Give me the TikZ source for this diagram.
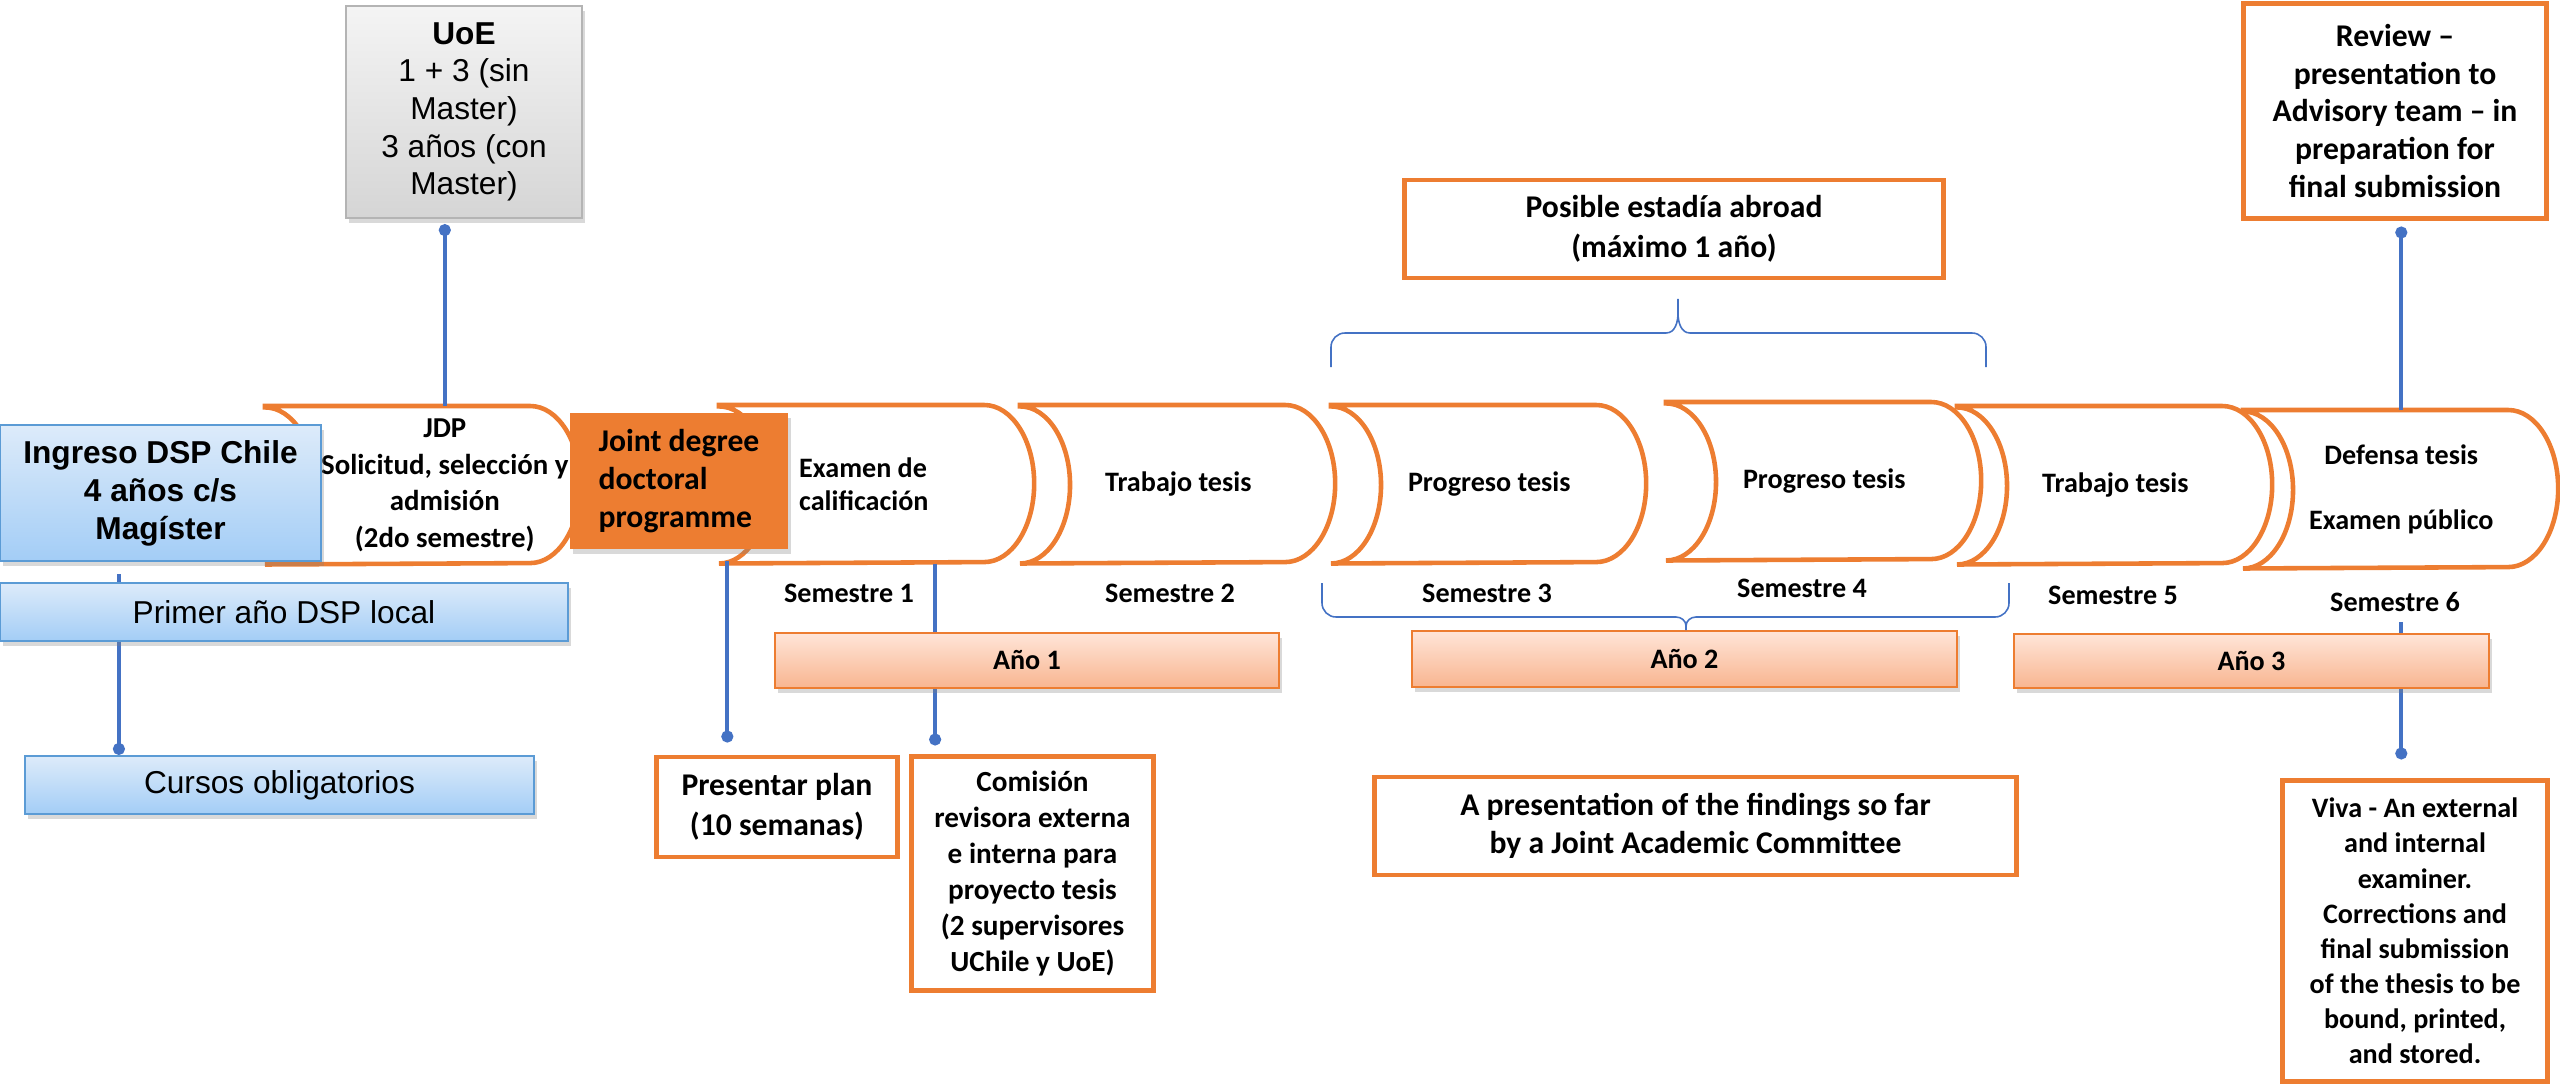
\documentclass[tikz,border=0pt]{standalone}
\usepackage{fontspec}
\setmainfont{Carlito}
\newfontfamily\arialfont{Liberation Sans}
\usepackage{tikz}
\usetikzlibrary{arrows.meta,backgrounds,shadows}

\definecolor{naranja}{HTML}{ED7D31}
\definecolor{azullinea}{HTML}{4472C4}
\definecolor{azulborde}{HTML}{5B9BD5}
\definecolor{azularriba}{HTML}{DDEBFA}
\definecolor{azulabajo}{HTML}{A3CDF6}
\definecolor{grisarriba}{HTML}{F4F4F4}
\definecolor{grisabajo}{HTML}{D5D5D5}
\definecolor{grisborde}{HTML}{B4B4B4}
\definecolor{anoarriba}{HTML}{FFE5D8}
\definecolor{anoabajo}{HTML}{F8B590}

\begin{document}
\begin{tikzpicture}[x=0.01cm, y=-0.01cm,
  sombra/.style={drop shadow={opacity=0.3, shadow xshift=0.3mm, shadow yshift=-0.5mm}},
  texto/.style={font=\bfseries\fontsize{8pt}{9.5pt}\selectfont, align=center, inner sep=0pt},
  etapa/.style={texto, anchor=north west, minimum width=3.15cm, minimum height=1.57cm},
  borde etapa/.style={draw=naranja, line width=1.3pt, fill=white},
  caja/.style={texto, draw=naranja, line width=1.4pt, fill=white},
  ano/.style={texto, draw=naranja, line width=0.7pt, top color=anoarriba, bottom color=anoabajo, sombra},
  azul/.style={font=\arialfont\fontsize{9pt}{10.8pt}\selectfont, align=center, inner sep=0pt,
    draw=azulborde, line width=0.6pt, top color=azularriba, bottom color=azulabajo, sombra},
  conector/.style={draw=azullinea, line width=1.1pt, -{Circle[length=3.4pt]}},
  llave/.style={draw=azullinea, line width=0.45pt}
]
\useasboundingbox (0,0) rectangle (2560,1085);

\node[azul, font=\arialfont\fontsize{9pt}{10.7pt}\selectfont, draw=grisborde, top color=grisarriba, bottom color=grisabajo,
  minimum width=2.36cm, minimum height=2.12cm] (uoe) at (464,112)
  {\textbf{UoE}\\1 + 3 (sin\\Master)\\3 años (con\\Master)};

\node[etapa, minimum width=3.58cm, font=\bfseries\fontsize{8.2pt}{10.4pt}\selectfont] (jdp) at (265,406)
  {JDP\\Solicitud, selección y\\admisión\\(2do semestre)};
\node[etapa, minimum width=2.88cm, align=left] (examen) at (719,405) {Examen de\\calificación};
\node[etapa] (trabajoA) at (1020,405) {Trabajo tesis};
\node[etapa] (progresoA) at (1331,405) {Progreso tesis};
\node[etapa] (progresoB) at (1666,402) {Progreso tesis};
\node[etapa] (trabajoB) at (1957,406) {Trabajo tesis};
\node[etapa] (defensa) at (2243,410) {Defensa tesis\\[9pt]Examen público};

\node[azul, font=\arialfont\bfseries\fontsize{9pt}{10.8pt}\selectfont, minimum width=3.21cm, minimum height=1.36cm]
  (ingreso) at (160.5,493) {Ingreso DSP Chile\\4 años c/s\\Magíster};
\node[azul, minimum width=5.68cm, minimum height=0.58cm] (primer) at (284,612) {Primer año DSP local};
\node[azul, minimum width=5.09cm, minimum height=0.58cm] (cursos) at (279.5,785) {Cursos obligatorios};

\node[texto, fill=naranja, align=left, font=\bfseries\fontsize{9pt}{10.7pt}\selectfont, sombra,
  minimum width=2.18cm, minimum height=1.36cm] (joint) at (679,481) {Joint degree\\doctoral\\programme};

\node[texto] (sem1) at (849,593) {Semestre 1};
\node[texto] (sem2) at (1170,593) {Semestre 2};
\node[texto] (sem3) at (1487,593) {Semestre 3};
\node[texto] (sem4) at (1802,588) {Semestre 4};
\node[texto] (sem5) at (2113,595) {Semestre 5};
\node[texto] (sem6) at (2395,602) {Semestre 6};

\node[ano, minimum width=5.04cm, minimum height=0.55cm] (ano1) at (1027,660.5) {Año 1};
\node[ano, minimum width=5.45cm, minimum height=0.56cm] (ano2) at (1684.5,659) {Año 2};
\node[ano, minimum width=4.75cm, minimum height=0.54cm] (ano3) at (2251.5,661) {Año 3};

\node[caja, font=\bfseries\fontsize{9pt}{11.4pt}\selectfont, minimum width=2.40cm, minimum height=1.00cm]
  (presentar) at (777,807) {Presentar plan\\(10 semanas)};
\node[caja, font=\bfseries\fontsize{8.3pt}{10.2pt}\selectfont, minimum width=2.41cm, minimum height=2.33cm]
  (comision) at (1032.5,873.5) {Comisión\\revisora externa\\e interna para\\proyecto tesis\\(2 supervisores\\UChile y UoE)};
\node[caja, font=\bfseries\fontsize{9pt}{11.4pt}\selectfont, minimum width=5.38cm, minimum height=0.98cm]
  (posible) at (1674,229) {Posible estadía abroad\\(máximo 1 año)};
\node[caja, font=\bfseries\fontsize{9pt}{11pt}\selectfont, minimum width=6.41cm, minimum height=0.98cm]
  (hallazgos) at (1695.5,826) {A presentation of the findings so far\\by a Joint Academic Committee};
\node[caja, font=\bfseries\fontsize{9pt}{10.8pt}\selectfont, minimum width=3.02cm, minimum height=2.14cm]
  (review) at (2395,111) {Review --\\presentation to\\Advisory team -- in\\preparation for\\final submission};
\node[caja, font=\bfseries\fontsize{8pt}{10pt}\selectfont, minimum width=2.64cm, minimum height=3.00cm]
  (viva) at (2415,931) {Viva - An external\\and internal\\examiner.\\Corrections and\\final submission\\of the thesis to be\\bound, printed,\\and stored.};

\begin{scope}[on background layer]
  \foreach \n in {jdp,examen,trabajoA,progresoA,progresoB,trabajoB,defensa}
    \draw[borde etapa] (\n.north west) -- ++(2.65cm,0)
      arc[start angle=90, end angle=-90, x radius=5mm, y radius=7.85mm] -- (\n.south west)
      arc[start angle=-90, end angle=90, x radius=5mm, y radius=7.85mm] -- cycle;
  \draw[conector, shorten >=0.5mm] (jdp.north) -- (jdp.north |- uoe.south);
  \draw[conector, shorten <=1.2mm] ([xshift=1.2cm]ingreso.south west) -- ([xshift=1.2cm]ingreso.south west |- cursos.north);
  \draw[conector, shorten <=1.1mm, shorten >=1.2mm] ([xshift=1.58cm]joint.south west) -- ([xshift=1.58cm]joint.south west |- presentar.north);
  \draw[conector, shorten >=0.9mm] ([xshift=2.16cm]examen.south west) -- ([xshift=2.16cm]examen.south west |- comision.north);
  \draw[conector, shorten >=0.6mm] (defensa.north) -- (defensa.north |- review.south);
  \draw[conector, shorten <=1mm, shorten >=1.9mm] (sem6.south -| defensa.south) -- (defensa.south |- viva.north);
\end{scope}

\draw[llave] (1331,367) -- (1331,347) to[out=90,in=180] (1345,333) -- (1666,333) to[out=0,in=-90] (1678,313) -- (1678,299)
  -- (1678,313) to[out=-90,in=180] (1690,333) -- (1972,333) to[out=0,in=90] (1986,347) -- (1986,367);
\draw[llave] (1322,583) -- (1322,603) to[out=-90,in=180] (1336,617) -- (1676,617) to[out=0,in=90] (1686,626) -- (1686,630)
  -- (1686,626) to[out=90,in=180] (1696,617) -- (1995,617) to[out=0,in=-90] (2009,603) -- (2009,583);
\end{tikzpicture}
\end{document}
